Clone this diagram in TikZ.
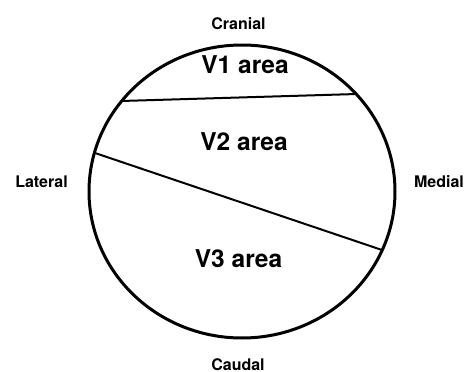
\documentclass[tikz,border=0pt]{standalone}
\usepackage{fontspec}
\setmainfont{TeX Gyre Heros}
\tikzset{
  side/.style={font=\fontsize{16}{19}\selectfont\bfseries, anchor=base, inner sep=0pt},
  area/.style={font=\fontsize{24.5}{28}\selectfont\bfseries, anchor=base, inner sep=0pt},
  outline/.style={line width=3pt},
  divider/.style={line width=2pt},
}
\begin{document}
\begin{tikzpicture}[x=1pt,y=-1pt]
\useasboundingbox (0,0) rectangle (464,372);
\draw[outline] (242,191.5) ellipse [x radius=153, y radius=146.5];
\coordinate (a1) at (121,101);
\coordinate (b1) at (357,94);
\coordinate (a2) at (95,153);
\coordinate (b2) at (382,250);
\draw[divider] (a1) -- (b1);
\draw[divider] (a2) -- (b2);
\node[side] (cranial) at (238.5,29) {Cranial};
\node[side] (caudal) at (238,370) {Caudal};
\node[side] (lateral) at (41.5,187) {Lateral};
\node[side] (medial) at (439,187) {Medial};
\node[area] (v1) at (245,74) {V1 area};
\node[area] (v2) at (244,150) {V2 area};
\node[area] (v3) at (238.5,267) {V3 area};
\end{tikzpicture}
\end{document}
